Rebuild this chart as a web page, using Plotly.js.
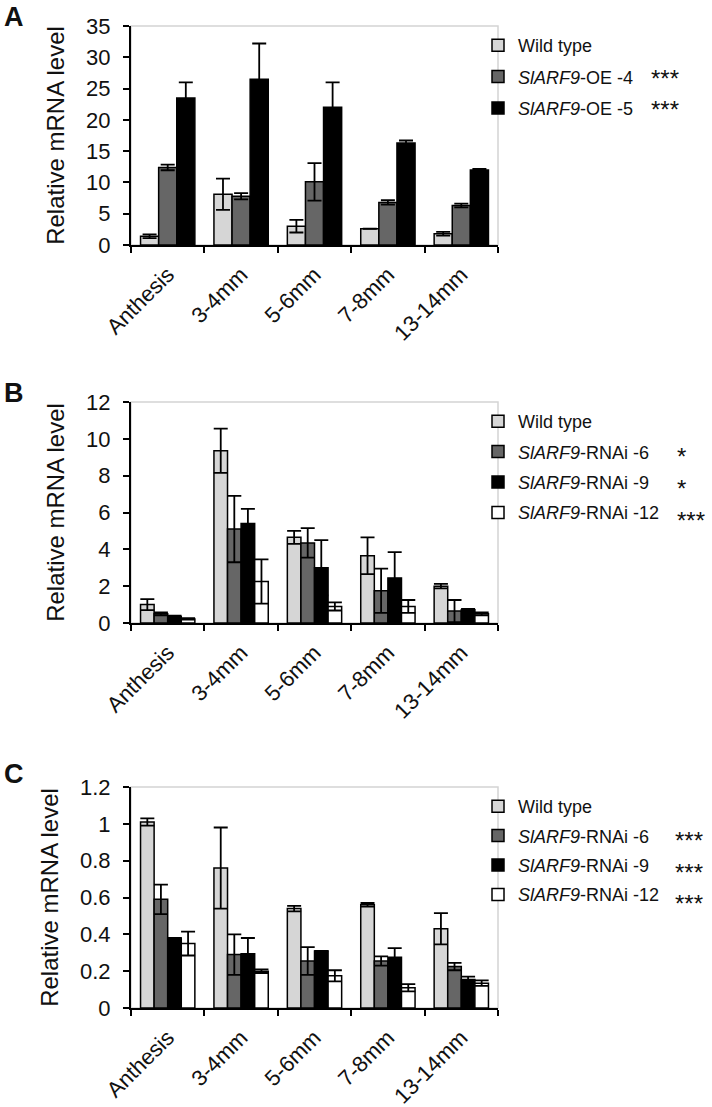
<!DOCTYPE html>
<html>
<head>
<meta charset="utf-8">
<script src="https://cdn.plot.ly/plotly-3.0.1.min.js"></script>
<style>html,body{margin:0;padding:0;background:#fff;}#chart{width:712px;height:1107px;}</style>
</head>
<body>
<div id="chart"></div>
<script>
// ---- data ----
const categories = ['Anthesis', '3-4mm', '5-6mm', '7-8mm', '13-14mm'];

// Panel A
const wtA = [1.4, 8.1, 3.0, 2.6, 1.8];
const wtAErr = [0.3, 2.5, 1.0, 0, 0.3];
const oe4A = [12.4, 7.8, 10.1, 6.8, 6.3];
const oe4AErr = [0.45, 0.5, 3.0, 0.35, 0.3];
const oe5A = [23.5, 26.5, 22.0, 16.3, 12.0];
const oe5AErr = [2.5, 5.7, 4.0, 0.4, 0.15];

// Panel B
const wtB = [1.0, 9.35, 4.65, 3.65, 2.0];
const wtBErr = [0.3, 1.2, 0.35, 1.0, 0.12];
const r6B = [0.5, 5.1, 4.35, 1.75, 0.65];
const r6BErr = [0.08, 1.8, 0.8, 1.2, 0.6];
const r9B = [0.35, 5.4, 3.0, 2.45, 0.72];
const r9BErr = [0.05, 0.8, 1.5, 1.4, 0.05];
const r12B = [0.22, 2.25, 0.9, 0.9, 0.5];
const r12BErr = [0.04, 1.2, 0.22, 0.35, 0.08];

// Panel C
const wtC = [1.01, 0.76, 0.54, 0.56, 0.43];
const wtCErr = [0.02, 0.22, 0.015, 0.01, 0.085];
const r6C = [0.59, 0.29, 0.255, 0.255, 0.225];
const r6CErr = [0.08, 0.11, 0.075, 0.025, 0.02];
const r9C = [0.38, 0.295, 0.31, 0.275, 0.155];
const r9CErr = [0, 0.085, 0, 0.05, 0.015];
const r12C = [0.35, 0.2, 0.175, 0.11, 0.135];
const r12CErr = [0.065, 0.01, 0.03, 0.02, 0.015];

const namesA = ['Wild type', '<i>SlARF9</i>-OE -4', '<i>SlARF9</i>-OE -5'];
const namesBC = ['Wild type', '<i>SlARF9</i>-RNAi -6', '<i>SlARF9</i>-RNAi -9', '<i>SlARF9</i>-RNAi -12'];
const starsA = ['', '***', '***'];
const starsB = ['', '*', '*', '***'];
const starsC = ['', '***', '***', '***'];

// ---- style ----
const W = 712, H = 1107;
const FONT = 'Liberation Sans, Arial, sans-serif';
const fills = ['#d6d6d6', '#666666', '#000000', '#ffffff'];
const px = v => v / W;
const py = v => 1 - v / H;

function barTrace(name, y, err, i, ax, leg, grp) {
  return {
    type: 'bar', name: name, x: categories, y: y,
    xaxis: 'x' + ax, yaxis: 'y' + ax, legend: leg, legendgroup: grp,
    marker: {color: fills[i], line: {color: '#000', width: 1.5}},
    error_y: {type: 'data', array: err, visible: true, symmetric: true,
              color: '#000', thickness: 1.8, width: 7},
    hoverinfo: 'x+y'
  };
}

const traces = [];
[[wtA, wtAErr], [oe4A, oe4AErr], [oe5A, oe5AErr]].forEach((d, i) =>
  traces.push(barTrace(namesA[i], d[0], d[1], i, '', 'legend', 'a' + i)));
[[wtB, wtBErr], [r6B, r6BErr], [r9B, r9BErr], [r12B, r12BErr]].forEach((d, i) =>
  traces.push(barTrace(namesBC[i], d[0], d[1], i, '2', 'legend2', 'b' + i)));
[[wtC, wtCErr], [r6C, r6CErr], [r9C, r9CErr], [r12C, r12CErr]].forEach((d, i) =>
  traces.push(barTrace(namesBC[i], d[0], d[1], i, '3', 'legend3', 'c' + i)));

const xdom = [px(131), px(498)];
const panels = [
  {top: 26, bot: 245, range: [0, 35], dtick: 5, leg: 27, gap: 5},
  {top: 402, bot: 623, range: [0, 12], dtick: 2, leg: 403, gap: 4},
  {top: 787, bot: 1008, range: [0, 1.2], dtick: 0.2, leg: 788, gap: 3}
];

const layout = {
  width: W, height: H,
  margin: {l: 0, r: 0, t: 0, b: 0},
  paper_bgcolor: '#fff', plot_bgcolor: '#fff',
  font: {family: FONT, color: '#111'},
  barmode: 'group', bargap: 0.26, bargroupgap: 0,
  showlegend: true,
  annotations: [], shapes: []
};

panels.forEach((p, k) => {
  const s = k === 0 ? '' : String(k + 1);
  layout['xaxis' + s] = {
    domain: xdom, anchor: 'y' + s, type: 'category',
    showline: true, linecolor: '#000', linewidth: 2,
    ticks: 'outside', tickson: 'boundaries', ticklen: 6, tickwidth: 2, tickcolor: '#000',
    ticklabelstandoff: 6,
    tickangle: -45, tickfont: {size: 22, family: FONT, color: '#111'},
    showgrid: false, zeroline: false, automargin: false, fixedrange: true
  };
  layout['yaxis' + s] = {
    domain: [py(p.bot), py(p.top)], anchor: 'x' + s,
    range: p.range, dtick: p.dtick, tick0: 0,
    showline: true, linecolor: '#000', linewidth: 2,
    ticks: 'outside', ticklen: 6, tickwidth: 2, tickcolor: '#000',
    ticklabelstandoff: 8,
    tickfont: {size: 22, family: FONT, color: '#111'},
    title: {text: 'Relative mRNA level', font: {size: 24, family: FONT, color: '#111'}, standoff: 15},
    showgrid: false, zeroline: false, automargin: false, fixedrange: true
  };
  // light frame on top and right
  layout.shapes.push({type: 'rect', xref: 'x' + s + ' domain', yref: 'y' + s + ' domain',
    x0: 0, x1: 1, y0: 0, y1: 1, line: {color: '#d4d4d4', width: 1.5}, layer: 'below'});
  const leg = k === 0 ? 'legend' : 'legend' + (k + 1);
  layout[leg] = {
    x: px(478), y: py(p.leg), xanchor: 'left', yanchor: 'top',
    font: {size: 18, family: FONT, color: '#111'},
    traceorder: 'grouped', tracegroupgap: p.gap, itemwidth: 30,
    bgcolor: 'rgba(0,0,0,0)', borderwidth: 0
  };
});

// panel letters
[['A', 17], ['B', 393], ['C', 774]].forEach(([t, y]) => {
  layout.annotations.push({text: '<b>' + t + '</b>', xref: 'paper', yref: 'paper',
    x: px(2), y: py(y), xanchor: 'left', yanchor: 'middle', showarrow: false,
    font: {size: 27, family: FONT, color: '#111'}});
});

// significance stars next to legend entries
function stars(list, x0, yFirst, gap) {
  list.forEach((t, i) => {
    if (!t) return;
    layout.annotations.push({text: t, xref: 'paper', yref: 'paper',
      x: px(x0), y: py(yFirst + i * gap + 4), xanchor: 'left', yanchor: 'middle', showarrow: false,
      font: {size: 24, family: FONT, color: '#111'}});
  });
}
stars(starsA, 649, 44, 30.5);
stars(starsB, 675, 420, 32);
stars(starsC, 673, 805, 31.5);

Plotly.newPlot('chart', traces, layout, {displayModeBar: false, staticPlot: true});
</script>
</body>
</html>
